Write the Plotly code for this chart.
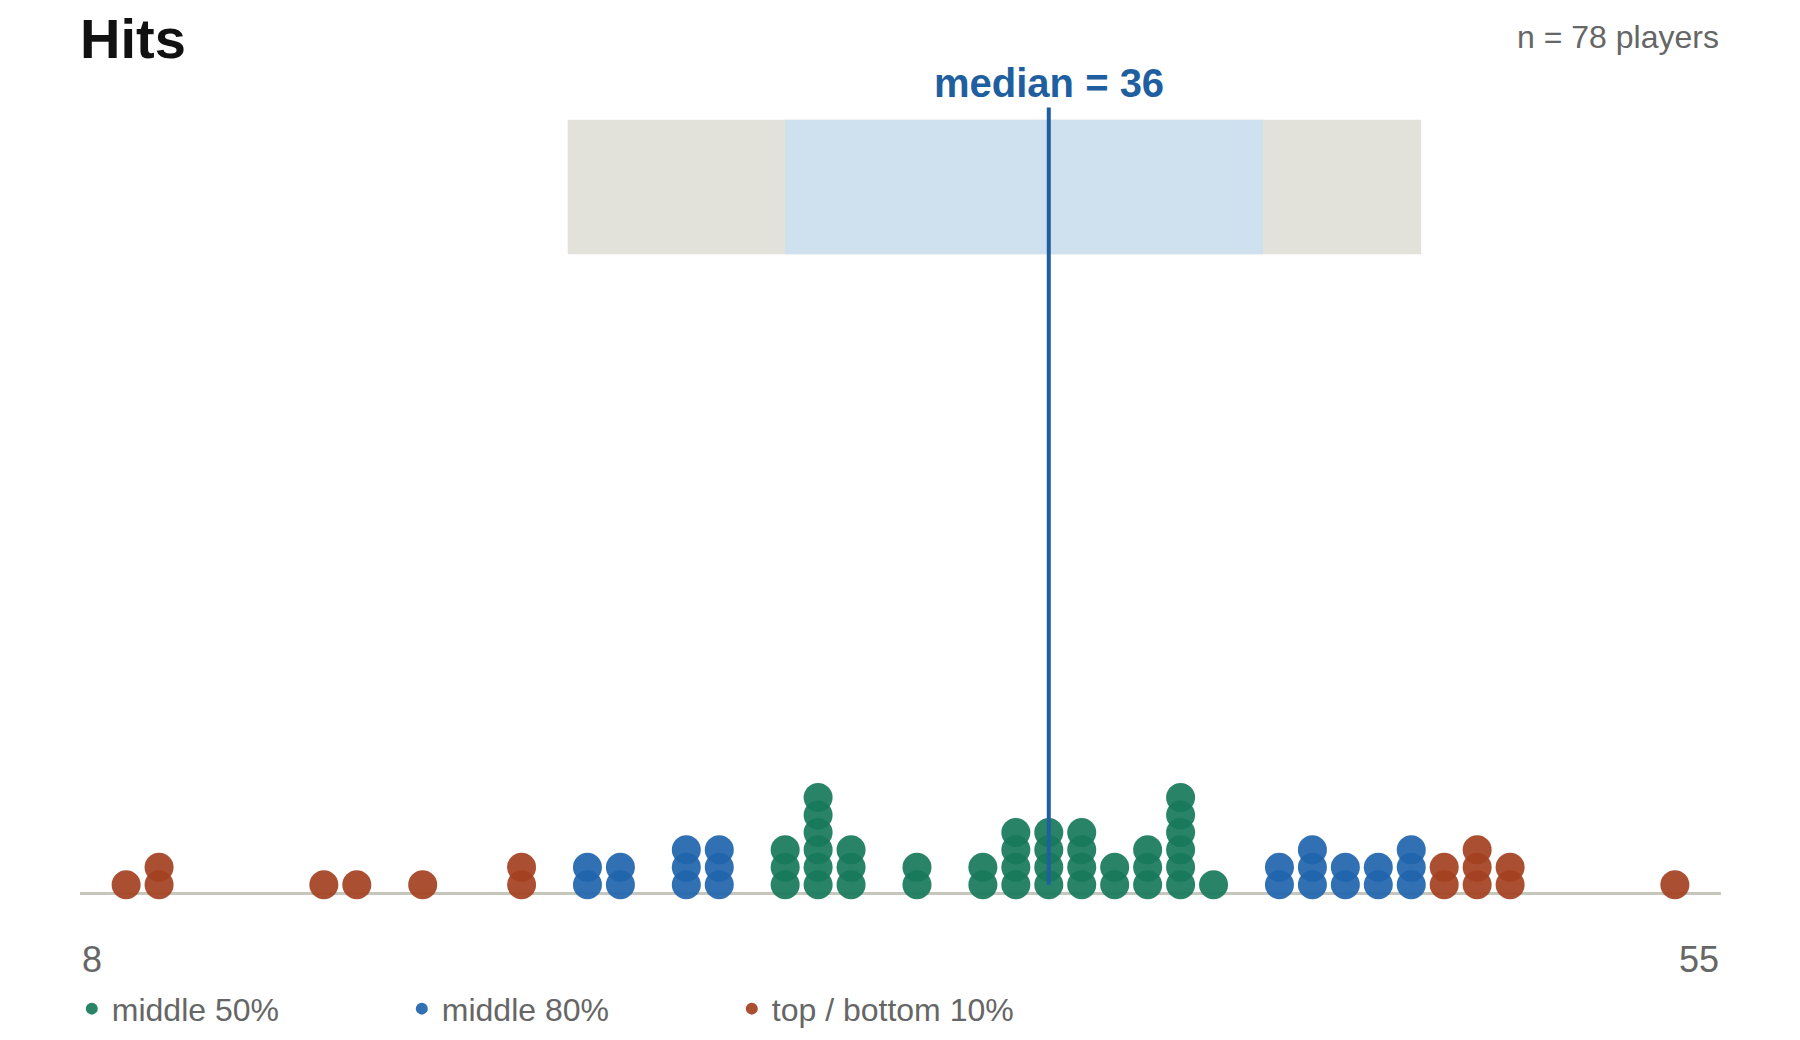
import plotly.graph_objects as go

# hits value -> number of players with that value
hit_values = [8, 9, 14, 15, 17, 20, 22, 23, 25, 26, 28, 29, 30, 32, 34, 35, 36,
              37, 38, 39, 40, 41, 43, 44, 45, 46, 47, 48, 49, 50, 55]
hit_counts = [1, 2, 1, 1, 1, 2, 2, 2, 3, 3, 3, 6, 3, 2, 2, 4, 4,
              4, 2, 3, 6, 1, 2, 3, 2, 2, 3, 2, 3, 2, 1]

median = 36
p10, p25, p75, p90 = 21.4, 28.0, 42.5, 47.3
n_players = 78

groups = {
    "middle 50%": "#17785a",
    "middle 80%": "#1f64ad",
    "top / bottom 10%": "#a3401f",
}


def group_of(v):
    if p25 <= v <= p75:
        return "middle 50%"
    if p10 <= v <= p90:
        return "middle 80%"
    return "top / bottom 10%"


pts = {g: ([], []) for g in groups}
for v, c in zip(hit_values, hit_counts):
    g = group_of(v)
    for k in range(c):
        pts[g][0].append(v)
        pts[g][1].append(k + 0.5)

fig = go.Figure()
for g, col in groups.items():
    fig.add_trace(go.Scatter(
        x=pts[g][0], y=pts[g][1], mode="markers", name=g,
        marker=dict(size=29, color=col, opacity=0.92, line=dict(width=0)),
    ))

box_lo, box_hi = 36.6, 44.3
fig.add_shape(type="rect", x0=p10, x1=p90, y0=box_lo, y1=box_hi,
              fillcolor="#e2e2da", line_width=0, layer="below")
fig.add_shape(type="rect", x0=p25, x1=p75, y0=box_lo, y1=box_hi,
              fillcolor="#cfe0ee", line_width=0, layer="below")
fig.add_shape(type="line", x0=6.6, x1=56.4, y0=0, y1=0,
              line=dict(color="#c6c6bc", width=3), layer="below")
fig.add_shape(type="line", x0=median, x1=median, y0=0.5, y1=45,
              line=dict(color="#1f5fa0", width=4))

fig.add_annotation(x=median, y=45, yanchor="bottom", text=f"<b>median = {median}</b>",
                   showarrow=False, font=dict(size=40, color="#1f5fa0"))
fig.add_annotation(xref="paper", yref="paper", x=0, y=-0.04, xanchor="left", yanchor="top",
                   text=str(min(hit_values)), showarrow=False,
                   font=dict(size=36, color="#666666"))
fig.add_annotation(xref="paper", yref="paper", x=1, y=-0.04, xanchor="right", yanchor="top",
                   text=str(max(hit_values)), showarrow=False,
                   font=dict(size=36, color="#666666"))
fig.add_annotation(xref="paper", yref="paper", x=1, y=1.04, xanchor="right", yanchor="bottom",
                   text=f"n = {n_players} players", showarrow=False,
                   font=dict(size=32, color="#666666"))

fig.update_layout(
    width=1800, height=1040,
    plot_bgcolor="white", paper_bgcolor="white",
    font=dict(family="Liberation Sans, Arial, sans-serif"),
    margin=dict(l=72, r=87, t=82, b=92),
    title=dict(text="<b>Hits</b>", x=0.04, xanchor="left", y=0.99, yanchor="top",
               font=dict(size=56, color="#111111")),
    xaxis=dict(range=[6.6, 56.4], visible=False),
    yaxis=dict(range=[-0.6, 46], visible=False),
    showlegend=True,
    legend=dict(orientation="h", x=-0.005, xanchor="left", y=-0.095, yanchor="top",
                font=dict(size=32, color="#666666"), itemsizing="constant",
                entrywidth=285, traceorder="normal"),
)

fig.write_html("out.html")
